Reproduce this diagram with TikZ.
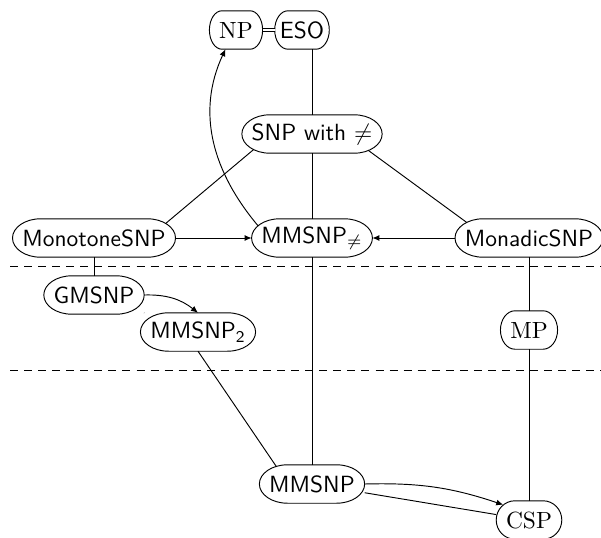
\documentclass[tikz,border=0pt]{standalone}
\usetikzlibrary{arrows.meta,calc}
% points on the left/right rounded ends of a class box
\newcommand\riml[2]{([shift={({12pt*cos(#2)+12pt},{8pt*sin(#2)})}]#1.west)}
\newcommand\rimr[2]{([shift={({12pt*cos(#2)-12pt},{8pt*sin(#2)})}]#1.east)}
\begin{document}
\begin{tikzpicture}[x=.15mm,y=-.15mm,
	cls/.style={inner xsep=4pt,inner ysep=2pt,minimum height=16pt,font=\sffamily},
	>={Latex[length=3pt,width=2.6pt]}]
	\useasboundingbox(0,0)rectangle(601,537);
	\node[cls,font=\rmfamily](np)at(236,30){NP};
	\node[cls,inner xsep=2pt](eso)at(302,30){ESO};
	\node[cls](snp)at(312,134){SNP with $\neq$};
	\node[cls](monotone)at(94,238){MonotoneSNP};
	\node[cls](mmsnpneq)at(312,238){MMSNP$_{\neq}$};
	\node[cls](monadic)at(529,238){MonadicSNP};
	\node[cls](gmsnp)at(94,295){GMSNP};
	\node[cls](mmsnptwo)at(198,332){MMSNP\textsubscript{2}};
	\node[cls,font=\rmfamily](mp)at(529,330){MP};
	\node[cls](mmsnp)at(312,484){MMSNP};
	\node[cls,font=\rmfamily](csp)at(529,520){CSP};
	\foreach \c in{np,eso,snp,monotone,mmsnpneq,monadic,gmsnp,mmsnptwo,mp,mmsnp,csp}{
		\draw let \p1=(\c.north west),\p2=(\c.south east),\n1={min(12pt,(\x2-\x1)/2-6pt)},\n2={(\y1-\y2)/2} in
			([xshift=\n1]\c.north west)--([xshift=-\n1]\c.north east)arc[start angle=90,end angle=-90,x radius=\n1,y radius=\n2]
			--([xshift=\n1]\c.south west)arc[start angle=270,end angle=90,x radius=\n1,y radius=\n2]--cycle;
	}
	\path\riml{mmsnpneq}{140}coordinate(neqout)([xshift=-4.5pt]np.south)coordinate(npin)
		([shift={(3pt,-1.7pt)}]csp.north west)coordinate(cspin);
	\foreach \y in{266,370}{
		\draw[dash pattern=on 3.4pt off 2.6pt](10,\y)--(601,\y);
	}
	\draw[double,double distance=1.2pt](np)--(eso);
	\draw(snp)--(snp|-eso.south);
	\draw\riml{snp}{235}--\rimr{monotone}{50};
	\draw\rimr{snp}{-60}--\riml{monadic}{125};
	\draw(snp)--(mmsnpneq)--(mmsnp);
	\draw[->](monotone)--(mmsnpneq);
	\draw[->](monadic)--(mmsnpneq);
	\draw[->](neqout)to[out=130,in=-115](npin);
	\draw(monotone)--(gmsnp);
	\draw(gmsnp)--(mmsnptwo);
	\draw[->](gmsnp.east)to[bend left=20](mmsnptwo.north);
	\draw(mmsnptwo.south)--\riml{mmsnp}{113};
	\draw(monadic)--(mp)--(csp);
	\draw(mmsnp)--(csp);
	\draw[->](mmsnp.east)to[bend left=10](cspin);
\end{tikzpicture}
\end{document}
